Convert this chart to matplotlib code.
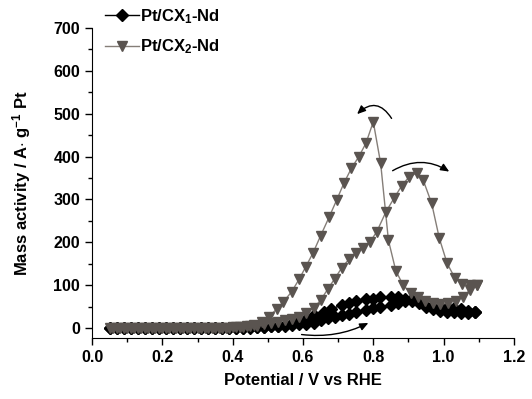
import matplotlib
matplotlib.use("Agg")
import matplotlib.pyplot as plt
from matplotlib.ticker import MultipleLocator, FormatStrFormatter
from matplotlib.lines import Line2D

plt.rcParams["font.family"] = ["Liberation Sans", "DejaVu Sans"]
plt.rcParams["font.weight"] = "bold"
plt.rcParams["mathtext.fontset"] = "custom"
plt.rcParams["mathtext.rm"] = "Liberation Sans:bold"
plt.rcParams["mathtext.it"] = "Liberation Sans:bold"
plt.rcParams["mathtext.bf"] = "Liberation Sans:bold"

# Pt/CX1-Nd: forward scan then backward scan
cx1_fwd_e = [0.05, 0.07, 0.09, 0.11, 0.13, 0.15, 0.17, 0.19, 0.21, 0.23, 0.25, 0.27,
             0.29, 0.31, 0.33, 0.35, 0.37, 0.39, 0.41, 0.43, 0.45, 0.47, 0.49, 0.51,
             0.53, 0.55, 0.57, 0.59, 0.61, 0.63, 0.65, 0.67, 0.69, 0.71, 0.73, 0.75,
             0.78, 0.80, 0.82, 0.85, 0.87, 0.89, 0.91, 0.93, 0.95, 0.97, 0.99, 1.01,
             1.03, 1.05, 1.07, 1.09]
cx1_fwd_i = [0, 0, 0, 0, 0, 0, 0, 0, 0, 0, 0, 0,
             0, 0, 0, 1, 1, 1, 1, 1, 2, 2, 3, 4,
             5, 6, 7, 9, 10, 13, 18, 23, 27, 30, 34, 38,
             42, 46, 50, 54, 59, 64, 67, 64, 58, 54, 52, 50,
             47, 44, 41, 38]
cx1_bwd_e = [1.09, 1.07, 1.05, 1.03, 1.01, 0.99, 0.97, 0.95, 0.93, 0.91, 0.89, 0.87,
             0.85, 0.82, 0.80, 0.78, 0.75, 0.73, 0.71, 0.68, 0.66, 0.63, 0.61, 0.59,
             0.57, 0.55, 0.53, 0.51, 0.49, 0.47, 0.45, 0.43, 0.41, 0.39, 0.37, 0.35,
             0.33, 0.31, 0.29, 0.27, 0.25, 0.23, 0.21, 0.19, 0.17, 0.15, 0.13, 0.11,
             0.09, 0.07, 0.05]
cx1_bwd_i = [38, 36, 36, 37, 38, 40, 44, 50, 58, 64, 69, 72,
             72, 72, 69, 67, 64, 59, 54, 44, 38, 30, 22, 16,
             11, 8, 6, 4, 3, 2, 1, 1, 1, 0, 0, 0,
             0, 0, 0, 0, 0, 0, 0, 0, 0, 0, 0, 0,
             0, 0, 0]

# Pt/CX2-Nd: forward scan then backward scan
cx2_fwd_e = [0.05, 0.07, 0.09, 0.11, 0.13, 0.15, 0.17, 0.19, 0.21, 0.23, 0.25, 0.27,
             0.29, 0.31, 0.33, 0.35, 0.37, 0.39, 0.41, 0.43, 0.45, 0.47, 0.49, 0.51,
             0.53, 0.55, 0.57, 0.59, 0.61, 0.63, 0.65, 0.67, 0.69, 0.71, 0.73, 0.75,
             0.77, 0.79, 0.81, 0.836, 0.859, 0.881, 0.902, 0.923, 0.942, 0.966, 0.988,
             1.010, 1.032, 1.051, 1.075, 1.094]
cx2_fwd_i = [0, 0, 0, 0, 0, 0, 0, 0, 0, 0, 0, 0,
             0, 0, 0, 1, 1, 1, 2, 3, 4, 6, 9, 12,
             15, 18, 22, 27, 35, 46, 65, 90, 115, 140, 160, 175,
             186, 200, 225, 271, 303, 332, 353, 361, 345, 291, 209,
             151, 117, 103, 100, 100]
cx2_bwd_e = [1.094, 1.075, 1.056, 1.035, 1.013, 0.991, 0.970, 0.947, 0.928, 0.906,
             0.885, 0.864, 0.843, 0.821, 0.800, 0.779, 0.759, 0.738, 0.717, 0.696,
             0.675, 0.650, 0.629, 0.608, 0.589, 0.568, 0.544, 0.525, 0.503, 0.483,
             0.462, 0.441, 0.420, 0.40, 0.38, 0.36, 0.34, 0.32, 0.30, 0.28, 0.26,
             0.24, 0.22, 0.20, 0.18, 0.16, 0.14, 0.12, 0.10, 0.08, 0.06]
cx2_bwd_i = [100, 89, 73, 64, 58, 56, 58, 64, 73, 82,
             100, 134, 205, 384, 481, 431, 400, 373, 339, 299,
             260, 215, 176, 143, 114, 85, 61, 44, 27, 14,
             8, 5, 3, 2, 1, 1, 0, 0, 0, 0, 0,
             0, 0, 0, 0, 0, 0, 0, 0, 0, 0]

fig = plt.figure(figsize=(5.32, 3.99), dpi=100)
ax = fig.add_axes([0.173, 0.153, 0.793, 0.777])

black = "#000000"
grey = "#5a5450"
grey_line = "#857e78"

ax.plot(cx1_fwd_e + cx1_bwd_e, cx1_fwd_i + cx1_bwd_i, color=black, lw=1,
        marker="D", ms=6, mfc=black, mec=black)
ax.plot(cx2_fwd_e + cx2_bwd_e, cx2_fwd_i + cx2_bwd_i, color=grey_line, lw=1,
        marker="v", ms=7.5, mfc=grey, mec=grey)

# scan direction arrows
arrow = dict(arrowstyle="-|>,head_length=0.5,head_width=0.22", color="k", lw=1,
             mutation_scale=10, shrinkA=0, shrinkB=0)
ax.annotate("", xy=(0.754, 499), xytext=(0.852, 489),
            arrowprops=dict(arrow, connectionstyle="arc3,rad=0.6"))
ax.annotate("", xy=(1.016, 365), xytext=(0.855, 367),
            arrowprops=dict(arrow, connectionstyle="arc3,rad=-0.3"))
ax.annotate("", xy=(0.786, 12), xytext=(0.596, -15),
            arrowprops=dict(arrow, connectionstyle="arc3,rad=0.15"))

ax.set_xlim(0, 1.2)
ax.set_ylim(-23, 700)
ax.xaxis.set_major_locator(MultipleLocator(0.2))
ax.xaxis.set_minor_locator(MultipleLocator(0.1))
ax.xaxis.set_major_formatter(FormatStrFormatter("%.1f"))
ax.yaxis.set_major_locator(MultipleLocator(100))
ax.yaxis.set_minor_locator(MultipleLocator(50))
ax.spines["top"].set_visible(False)
ax.spines["right"].set_visible(False)
ax.tick_params(which="major", direction="out", length=5, width=1, labelsize=11.5)
ax.tick_params(which="minor", direction="out", length=3, width=1)
for lbl in ax.get_xticklabels() + ax.get_yticklabels():
    lbl.set_fontweight("bold")

ax.set_xlabel("Potential / V vs RHE", fontsize=12, fontweight="bold", labelpad=6)
ax.set_ylabel("Mass activity / A$\\cdot$ g$^{-1}$ Pt", fontsize=12,
              fontweight="bold", labelpad=15)

handles = [
    Line2D([], [], color=black, lw=1, marker="D", ms=6, mfc=black, mec=black),
    Line2D([], [], color=grey_line, lw=1, marker="v", ms=7.5, mfc=grey, mec=grey),
]
fig.legend(handles, ["Pt/CX$_1$-Nd", "Pt/CX$_2$-Nd"], loc="upper left",
           bbox_to_anchor=(0.17, 1.02), frameon=False, handlelength=2.0,
           handletextpad=0.1, labelspacing=0.7, prop=dict(size=12, weight="bold"))

fig.savefig("out.png", dpi=100)
